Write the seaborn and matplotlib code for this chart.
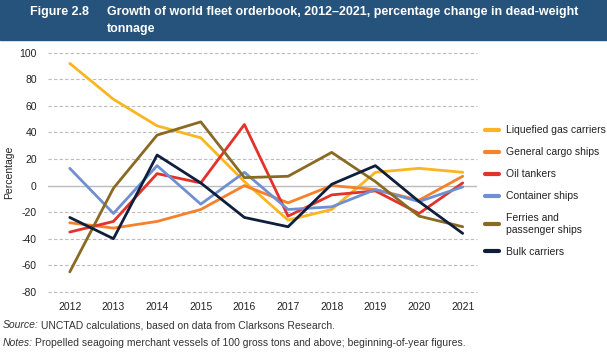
import numpy as np
import pandas as pd
import seaborn as sns
import matplotlib.pyplot as plt
from matplotlib.patches import Rectangle

# Data
years = [2012, 2013, 2014, 2015, 2016, 2017, 2018, 2019, 2020, 2021]
liquefied_gas = [92, 65, 45, 36, 3, -26, -18, 10, 13, 10]
general_cargo = [-28, -32, -27, -18, 0, -13, 0, -3, -11, 7]
oil_tankers = [-35, -27, 9, 2, 46, -23, -7, -4, -21, 2]
container = [13, -21, 15, -14, 10, -18, -16, -3, -12, -1]
ferries = [-65, -2, 38, 48, 6, 7, 25, 3, -23, -31]
bulk = [-24, -40, 23, 2, -24, -31, 1, 15, -12, -36]

series_names = ["Liquefied gas carriers", "General cargo ships", "Oil tankers",
                "Container ships", "Ferries and\npassenger ships", "Bulk carriers"]
series_values = [liquefied_gas, general_cargo, oil_tankers, container, ferries, bulk]
colors = ["#FBB520", "#F5812A", "#E2322A", "#6E8FD2", "#8A6A22", "#0F1E3C"]

df = pd.concat([pd.DataFrame({"year": years, "value": v, "series": n})
                for n, v in zip(series_names, series_values)])

sns.set_style("white")
plt.rcParams['font.family'] = ['Liberation Sans', 'DejaVu Sans']
plt.rcParams['axes.unicode_minus'] = False

fig = plt.figure(figsize=(6.07, 3.52), dpi=100)
ax = fig.add_axes([0.079, 0.171, 0.707, 0.679])

# Title banner
fig.patches.append(Rectangle((0, 1 - 40 / 352), 1, 40 / 352, transform=fig.transFigure,
                             color="#25537C", zorder=0))
fig.text(30 / 607, 1 - 12 / 352, "Figure 2.8", color="white", fontsize=9,
         fontweight="bold", va="center")
fig.text(107 / 607, 1 - 12 / 352, "Growth of world fleet orderbook, 2012\u20132021, percentage change in dead-weight",
         color="white", fontsize=9, fontweight="bold", va="center")
fig.text(107 / 607, 1 - 29 / 352, "tonnage", color="white", fontsize=9,
         fontweight="bold", va="center")

sns.lineplot(data=df, x="year", y="value", hue="series", palette=colors,
             linewidth=2, ax=ax, legend=False, zorder=3)

ax.set_xlim(2011.5, 2021.33)
ax.set_ylim(-80, 100)
ax.set_yticks(np.arange(-80, 101, 20))
ax.set_xticks(years)
for y in np.arange(-80, 101, 20):
    if y == 0:
        ax.axhline(0, color="#BBBBBB", lw=1, zorder=1)
    else:
        ax.axhline(y, color="#BBBBBB", lw=0.8, ls=(0, (3, 2)), zorder=1, clip_on=False)
for s in ax.spines.values():
    s.set_visible(False)
ax.tick_params(axis="both", length=0, labelsize=7.5, colors="#222222")
ax.tick_params(axis="y", pad=8)
ax.tick_params(axis="x", pad=7)
ax.set_xlabel("")
ax.set_ylabel("Percentage", fontsize=7.5, color="#222222", labelpad=4)

handles = [plt.Line2D([], [], color=c, lw=3) for c in colors]
fig.legend(handles, series_names, loc="upper left", bbox_to_anchor=(476 / 607, 1 - 116 / 352),
           frameon=False, fontsize=7.5, handlelength=1.3, handletextpad=0.7,
           labelspacing=1.15, labelcolor="#222222")

# Footer with italic lead-ins
fig.canvas.draw()
r = fig.canvas.get_renderer()
for lead, rest, ypx in [("Source:", "UNCTAD calculations, based on data from Clarksons Research.", 328),
                        ("Notes:", "Propelled seagoing merchant vessels of 100 gross tons and above; beginning-of-year figures.", 346)]:
    t = fig.text(3 / 607, 1 - ypx / 352, lead, fontsize=7.5, style="italic", color="#333333", va="baseline")
    bb = t.get_window_extent(r)
    fig.text(bb.x1 / fig.bbox.width + 0.004, 1 - ypx / 352, rest,
             fontsize=7.5, color="#333333", va="baseline")

fig.savefig("out.png", dpi=100)
